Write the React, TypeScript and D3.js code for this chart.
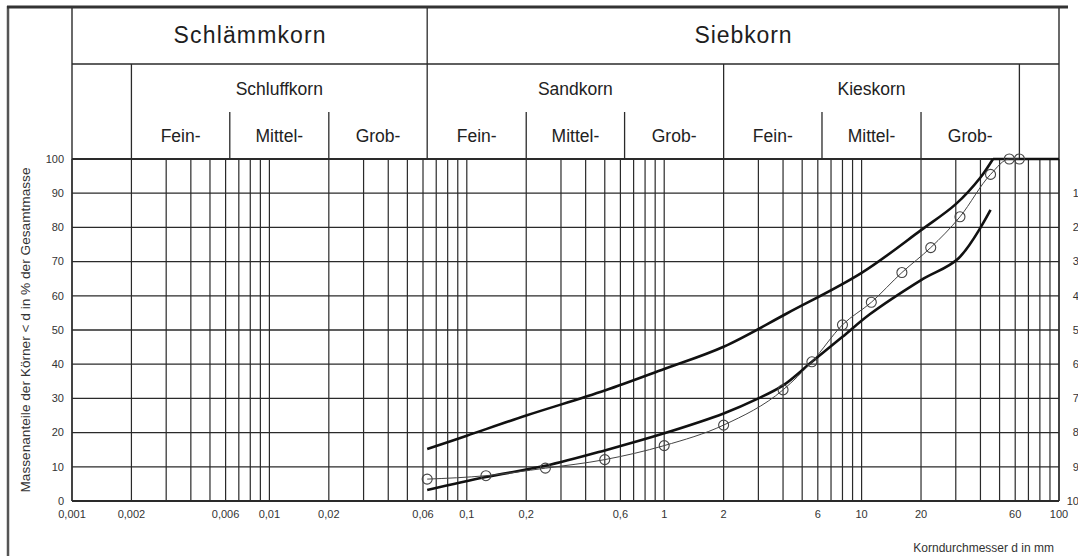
import React from 'react';
import * as d3 from 'd3';

// Sieve analysis (measured)
const sieveSizes = [0.063, 0.125, 0.25, 0.5, 1, 2, 4, 5.6, 8, 11.2, 16, 22.4, 31.5, 45, 56, 63];
const passing = [6.4, 7.4, 9.6, 12.1, 16.2, 22.2, 32.5, 40.7, 51.5, 58.1, 66.8, 74.1, 83.1, 95.5, 100, 100];

// Upper envelope
const upperD = [0.063, 0.1, 0.2, 0.5, 1, 2, 4.2, 10, 20, 30, 40, 46.3];
const upperP = [15.2, 19.1, 25.0, 32.3, 38.6, 45.1, 54.9, 66.7, 79.2, 86.8, 94.6, 100];
const upperTailD = [46.3, 100];
const upperTailP = [100, 100];

// Lower envelope
const lowerD = [0.063, 0.125, 0.25, 0.5, 1, 2, 3, 4, 5.6, 8, 11, 20, 31, 45];
const lowerP = [3.2, 7.0, 10.3, 14.8, 19.8, 25.6, 30.0, 33.8, 40.7, 48.0, 54.6, 64.6, 71.0, 85.1];

const yTicks = [0, 10, 20, 30, 40, 50, 60, 70, 80, 90, 100];
const yRightLabels = ['100', '90', '80', '70', '60', '50', '40', '30', '20', '10', '0'];
const xTickValues = [0.001, 0.002, 0.006, 0.01, 0.02, 0.06, 0.1, 0.2, 0.6, 1, 2, 6, 10, 20, 60, 100];
const xTickLabels = ['0,001', '0,002', '0,006', '0,01', '0,02', '0,06', '0,1', '0,2', '0,6', '1', '2', '6', '10', '20', '60', '100'];

const mainNames = ['Schlämmkorn', 'Siebkorn'];
const mainBounds: [number, number][] = [[0.001, 0.063], [0.063, 100]];
const mainWidths = [152, 97];
const groupNames = ['Schluffkorn', 'Sandkorn', 'Kieskorn'];
const groupBounds: [number, number][] = [[0.002, 0.063], [0.063, 2], [2, 63]];
const subNames = ['Fein-', 'Mittel-', 'Grob-', 'Fein-', 'Mittel-', 'Grob-', 'Fein-', 'Mittel-', 'Grob-'];
const subBounds: [number, number][] = [
  [0.002, 0.0063], [0.0063, 0.02], [0.02, 0.063],
  [0.063, 0.2], [0.2, 0.63], [0.63, 2],
  [2, 6.3], [6.3, 20], [20, 63],
];
const groupEdges = [0.002, 2, 63];
const subEdges = [0.0063, 0.02, 0.2, 0.63, 6.3, 20];

const FONT = '"Liberation Sans", Arial, sans-serif';

export default function App() {
  const W = 1078, H = 556;
  const x = d3.scaleLog().domain([0.001, 100]).range([72, 1059]);
  const y = d3.scaleLinear().domain([0, 100]).range([501, 159]);
  const yTop = 8, yRow1 = 64, yRow2 = 112;
  const gridColor = '#2a2a2a';

  const smooth = d3.line<[number, number]>()
    .x(d => x(d[0]))
    .y(d => y(d[1]))
    .curve(d3.curveCatmullRom.alpha(0.5));
  const mono = d3.line<[number, number]>()
    .x(d => x(d[0]))
    .y(d => y(d[1]))
    .curve(d3.curveMonotoneX);
  const straight = d3.line<[number, number]>()
    .x(d => x(d[0]))
    .y(d => y(d[1]));

  const upper = smooth(upperD.map((d, i) => [d, upperP[i]]) as [number, number][]) || '';
  const upperTail = straight(upperTailD.map((d, i) => [d, upperTailP[i]]) as [number, number][]) || '';
  const lower = smooth(lowerD.map((d, i) => [d, lowerP[i]]) as [number, number][]) || '';
  const meas = mono(sieveSizes.map((d, i) => [d, passing[i]]) as [number, number][]) || '';

  const gridX = x.ticks();

  return (
    <svg width={W} height={H} style={{ position: 'absolute', left: 0, top: 0, background: '#fff' }}
      fontFamily={FONT}>
      <rect x={0} y={0} width={W} height={H} fill="#fff" />
      {/* outer frame */}
      <line x1={8} x2={8} y1={6} y2={H} stroke="#555" strokeWidth={2.5} />
      <line x1={7} x2={1068} y1={7} y2={7} stroke="#333" strokeWidth={3} />

      {/* header lines */}
      <line x1={72} x2={72} y1={yTop} y2={y(0)} stroke={gridColor} strokeWidth={1.4} />
      <line x1={x(100)} x2={x(100)} y1={yTop} y2={y(0)} stroke={gridColor} strokeWidth={1.4} />
      <line x1={72} x2={x(100)} y1={yRow1} y2={yRow1} stroke={gridColor} strokeWidth={1.3} />
      <line x1={x(0.063)} x2={x(0.063)} y1={yTop} y2={y(100)} stroke={gridColor} strokeWidth={1.3} />
      {groupEdges.map((e, i) => (
        <line key={'ge' + i} x1={x(e)} x2={x(e)} y1={yRow1} y2={y(100)} stroke={gridColor} strokeWidth={1.3} />
      ))}
      {subEdges.map((e, i) => (
        <line key={'se' + i} x1={x(e)} x2={x(e)} y1={yRow2} y2={y(100)} stroke={gridColor} strokeWidth={1.3} />
      ))}

      {mainNames.map((n, i) => (
        <text key={'mn' + i} x={(x(mainBounds[i][0]) + x(mainBounds[i][1])) / 2} y={43}
          textAnchor="middle" fontSize={23} fill="#1e1e1e" textLength={mainWidths[i]} lengthAdjust="spacing">{n}</text>
      ))}
      {groupNames.map((n, i) => (
        <text key={'gn' + i} x={(x(groupBounds[i][0]) + x(groupBounds[i][1])) / 2} y={95}
          textAnchor="middle" fontSize={17.5} fill="#222">{n}</text>
      ))}
      {subNames.map((n, i) => (
        <text key={'sn' + i} x={(x(subBounds[i][0]) + x(subBounds[i][1])) / 2} y={142}
          textAnchor="middle" fontSize={17.5} fill="#222">{n}</text>
      ))}

      {/* grid */}
      {gridX.map((g, i) => (
        <line key={'gx' + i} x1={x(g)} x2={x(g)} y1={y(100)} y2={y(0)} stroke={gridColor} strokeWidth={1.2} />
      ))}
      {yTicks.map((t, i) => (
        <line key={'gy' + i} x1={72} x2={x(100)} y1={y(t)} y2={y(t)} stroke={gridColor}
          strokeWidth={t === 100 || t === 0 ? 2 : 1.3} />
      ))}

      {/* left axis labels */}
      {yTicks.map((t, i) => (
        <text key={'yl' + i} x={64} y={y(t)} dy="0.35em" textAnchor="end" fontSize={11} fill="#333">{t}</text>
      ))}
      {/* right axis labels (complement), cut by the picture edge as in the source */}
      {yTicks.map((t, i) => (
        <text key={'yr' + i} x={1085} y={y(t)} dy="0.35em" textAnchor="end" fontSize={11} fill="#333">{yRightLabels[i]}</text>
      ))}
      {/* x labels */}
      {xTickValues.map((v, i) => (
        <text key={'xl' + i} x={x(v)} y={518} textAnchor="middle" fontSize={11} fill="#333">{xTickLabels[i]}</text>
      ))}

      <text transform={`translate(30,${(y(0) + y(100)) / 2}) rotate(-90)`} textAnchor="middle" fontSize={12.5}
        fill="#333" textLength={325} lengthAdjust="spacingAndGlyphs">Massenanteile der Körner &lt; d in % der Gesamtmasse</text>
      <text x={1054} y={552} textAnchor="end" fontSize={12} fill="#333">Korndurchmesser d in mm</text>

      {/* curves */}
      <path d={upper} fill="none" stroke="#111" strokeWidth={2.6} />
      <path d={upperTail} fill="none" stroke="#111" strokeWidth={2.6} />
      <path d={lower} fill="none" stroke="#111" strokeWidth={2.6} />
      <path d={meas} fill="none" stroke="#444" strokeWidth={1} />
      {sieveSizes.map((d, i) => (
        <circle key={'c' + i} cx={x(d)} cy={y(passing[i])} r={5} fill="none" stroke="#444" strokeWidth={1.1} />
      ))}
    </svg>
  );
}
